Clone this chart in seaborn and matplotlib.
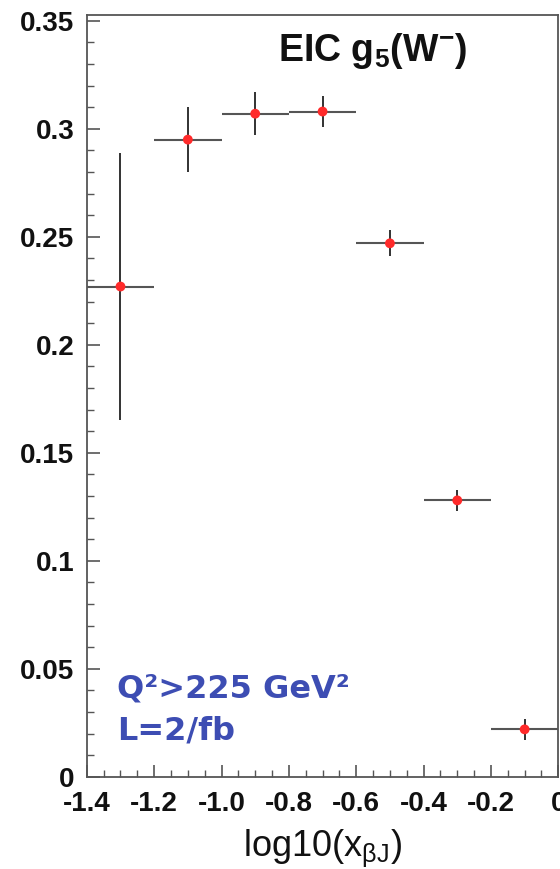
import matplotlib
matplotlib.use("Agg")
import matplotlib.pyplot as plt
import seaborn as sns
import pandas as pd
from matplotlib.ticker import MultipleLocator, FixedLocator

x_centers = [-1.3, -1.1, -0.9, -0.7, -0.5, -0.3, -0.1]
x_halfwidth = [0.1, 0.1, 0.1, 0.1, 0.1, 0.1, 0.1]
g5_values = [0.227, 0.295, 0.307, 0.308, 0.247, 0.128, 0.022]
g5_errors = [0.062, 0.015, 0.010, 0.007, 0.006, 0.005, 0.005]
x_ticks = [-1.4, -1.2, -1.0, -0.8, -0.6, -0.4, -0.2, 0.0]
x_ticklabels = ["-1.4", "-1.2", "-1.0", "-0.8", "-0.6", "-0.4", "-0.2", "0"]
y_ticks = [0, 0.05, 0.1, 0.15, 0.2, 0.25, 0.3, 0.35]
y_ticklabels = ["0", "0.05", "0.1", "0.15", "0.2", "0.25", "0.3", "0.35"]

df = pd.DataFrame({"x": x_centers, "y": g5_values, "xerr": x_halfwidth, "yerr": g5_errors})

sns.set_style("white")
plt.rcParams["font.family"] = ["Liberation Sans", "DejaVu Sans"]
plt.rcParams["mathtext.fontset"] = "custom"
plt.rcParams["mathtext.rm"] = "Liberation Sans"
plt.rcParams["mathtext.it"] = "Liberation Sans"
plt.rcParams["mathtext.bf"] = "Liberation Sans:bold"

fig = plt.figure(figsize=(5.6, 8.69), dpi=100)
ax = fig.add_axes([0.155, 0.106, 0.842, 0.877])

ax.errorbar(df["x"], df["y"], xerr=df["xerr"], fmt="none", ecolor="#555555", elinewidth=1.5, capsize=0, zorder=2)
ax.errorbar(df["x"], df["y"], yerr=df["yerr"], fmt="none", ecolor="#222222", elinewidth=1.3, capsize=0, zorder=2)
sns.scatterplot(data=df, x="x", y="y", ax=ax, color="#ff2a2a", s=50, edgecolor="none", zorder=3, legend=False)

ax.set_xlim(-1.4, 0.0)
ax.set_ylim(0, 0.3528)
ax.xaxis.set_major_locator(FixedLocator(x_ticks))
ax.set_xticklabels(x_ticklabels)
ax.xaxis.set_minor_locator(MultipleLocator(0.05))
ax.yaxis.set_major_locator(FixedLocator(y_ticks))
ax.set_yticklabels(y_ticklabels)
ax.yaxis.set_minor_locator(MultipleLocator(0.01))

ax.tick_params(axis="both", which="major", direction="in", length=9, width=1.2, color="#555555",
               labelsize=20, bottom=True, left=True, top=False, right=False)
ax.tick_params(axis="x", which="major", pad=10)
ax.tick_params(axis="y", which="major", pad=9)
ax.tick_params(axis="both", which="minor", direction="in", length=5, width=1.0, color="#555555",
               bottom=True, left=True, top=False, right=False)
for lab in ax.get_xticklabels() + ax.get_yticklabels():
    lab.set_fontweight("bold")
    lab.set_color("#111111")

for sp in ax.spines.values():
    sp.set_color("#555555")
    sp.set_linewidth(1.3)

ax.set_xlabel(r"log10(x$_{\mathrm{\beta J}}$)", fontsize=26, labelpad=8, color="#111111")
ax.set_ylabel("")

ax.text(0.605, 0.952, r"EIC g$_{\mathbf{5}}$(W$^{\mathbf{-}}$)", transform=ax.transAxes, fontsize=27, fontweight="bold",
        ha="center", va="center", color="#111111")
ax.text(0.065, 0.115, "Q²>225 GeV²", transform=ax.transAxes, fontsize=23, fontweight="bold",
        color="#3d4db3", family=["DejaVu Sans"], ha="left", va="center")
ax.text(0.065, 0.06, "L=2/fb", transform=ax.transAxes, fontsize=23, fontweight="bold",
        color="#3d4db3", family=["DejaVu Sans"], ha="left", va="center")

fig.savefig("out.png", dpi=100)
